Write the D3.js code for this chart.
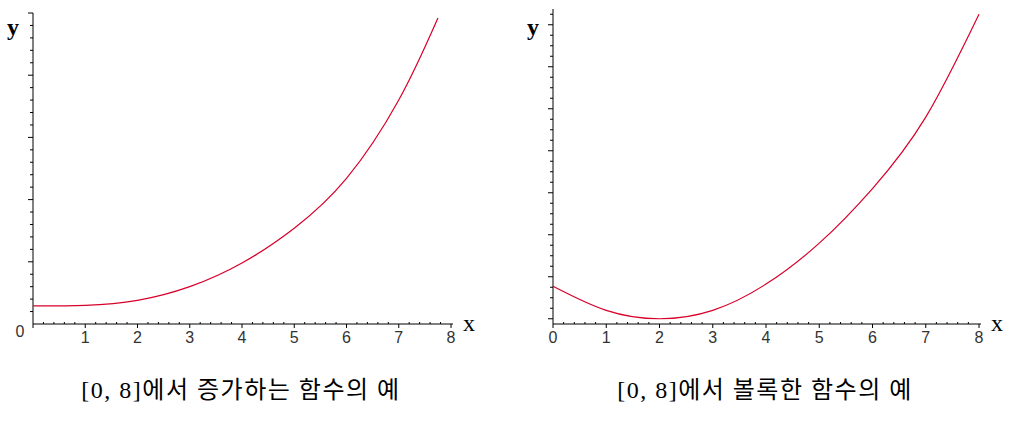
<!DOCTYPE html>
<html><head><meta charset="utf-8">
<script src="https://cdn.jsdelivr.net/npm/d3@7"></script>
<style>body{margin:0;background:#fff}</style>
</head><body>
<svg width="1015" height="431"></svg>
<script>
// left: increasing function (y in tick units)
var incX = [0, 1, 2, 3, 4, 5, 6, 7, 7.75];
var incY = [1.45, 1.5, 1.9, 3.0, 4.9, 7.7, 11.7, 18.0, 24.6];
// right: convex function
var cvxX = [0, 1, 2, 3, 4, 5, 6, 7, 8];
var cvxY = [3.1, 0.8, 0, 0.8, 3.3, 7.2, 12.4, 19.2, 29.0];
var xTicks = [1, 2, 3, 4, 5, 6, 7, 8];
var captions = ["[0, 8]에서 증가하는 함수의 예", "[0, 8]에서 볼록한 함수의 예"];

var svg = d3.select("svg");
var red = "#d8002a";

var drawPanel = function(o){
	var g = svg.append("g");
	var x = d3.scaleLinear().domain([0, 8]).range([o.x0, o.x1]);
	var y = d3.scaleLinear().domain(o.yDom).range([o.y0, o.y1]);
	// x axis line + ticks
	g.append("line").attr("x1", o.x0).attr("x2", o.x1 + 2).attr("y1", o.axisY).attr("y2", o.axisY)
		.attr("stroke", "#000");
	d3.range(0, 40.5).forEach(function(i){
		var v = i / 5, major = i % 5 == 0;
		g.append("line").attr("x1", x(v)).attr("x2", x(v))
			.attr("y1", o.axisY - (major ? 0 : 2)).attr("y2", o.axisY + (major ? 4 : 0))
			.attr("stroke", "#000");
	});
	g.selectAll(".xl").data(o.xLabels).enter().append("text")
		.attr("x", function(d){return x(d);}).attr("y", o.axisY + 19)
		.attr("text-anchor", "middle").attr("font-family", "Liberation Sans, Arial")
		.attr("font-size", 16).attr("fill", "#333").text(function(d){return d;});
	// y axis
	g.append("line").attr("x1", o.x0).attr("x2", o.x0).attr("y1", o.axisY).attr("y2", o.yTop)
		.attr("stroke", "#000");
	d3.range(o.yTickFrom, o.yDom[1] + 0.01).forEach(function(v){
		var major = v % o.yMajor == 0;
		g.append("line").attr("x1", o.x0 - (major ? 5 : 3)).attr("x2", o.x0)
			.attr("y1", y(v)).attr("y2", y(v)).attr("stroke", "#000");
	});
	g.append("text").attr("x", o.x0 - 26).attr("y", 35).attr("font-family", "Liberation Serif")
		.attr("font-weight", "bold").attr("font-size", 24).text("y");
	g.append("text").attr("x", o.x1 + 12).attr("y", o.axisY + 7).attr("font-family", "Liberation Serif")
		.attr("font-size", 24).text("x");
	// curve
	g.append("path").datum(d3.zip(o.xs, o.ys))
		.attr("d", d3.line().x(function(d){return x(d[0]);}).y(function(d){return y(d[1]);}).curve(d3.curveNatural))
		.attr("fill", "none").attr("stroke", red).attr("stroke-width", 1.2);
	g.append("text").attr("x", o.cx).attr("y", 398).attr("text-anchor", "middle")
		.attr("font-family", "Liberation Serif, Noto Sans CJK KR").attr("font-size", 24)
		.attr("letter-spacing", 1.5).text(o.caption);
	return g;
};

var left = drawPanel({x0: 33, x1: 451, axisY: 324, yTop: 13, yDom: [0, 25], y0: 324, y1: 13,
	yTickFrom: 1, yMajor: 5, xLabels: xTicks, xs: incX, ys: incY, cx: 241, caption: captions[0]});
left.append("text").attr("x", 20).attr("y", 337).attr("text-anchor", "middle")
	.attr("font-family", "Liberation Sans").attr("font-size", 16).attr("fill", "#333").text("0");

drawPanel({x0: 553, x1: 979, axisY: 324, yTop: 9, yDom: [-0.5, 29.5], y0: 324, y1: 9,
	yTickFrom: 0, yMajor: 4, xLabels: [0].concat(xTicks), xs: cvxX, ys: cvxY, cx: 765, caption: captions[1]});
</script>
</body></html>
